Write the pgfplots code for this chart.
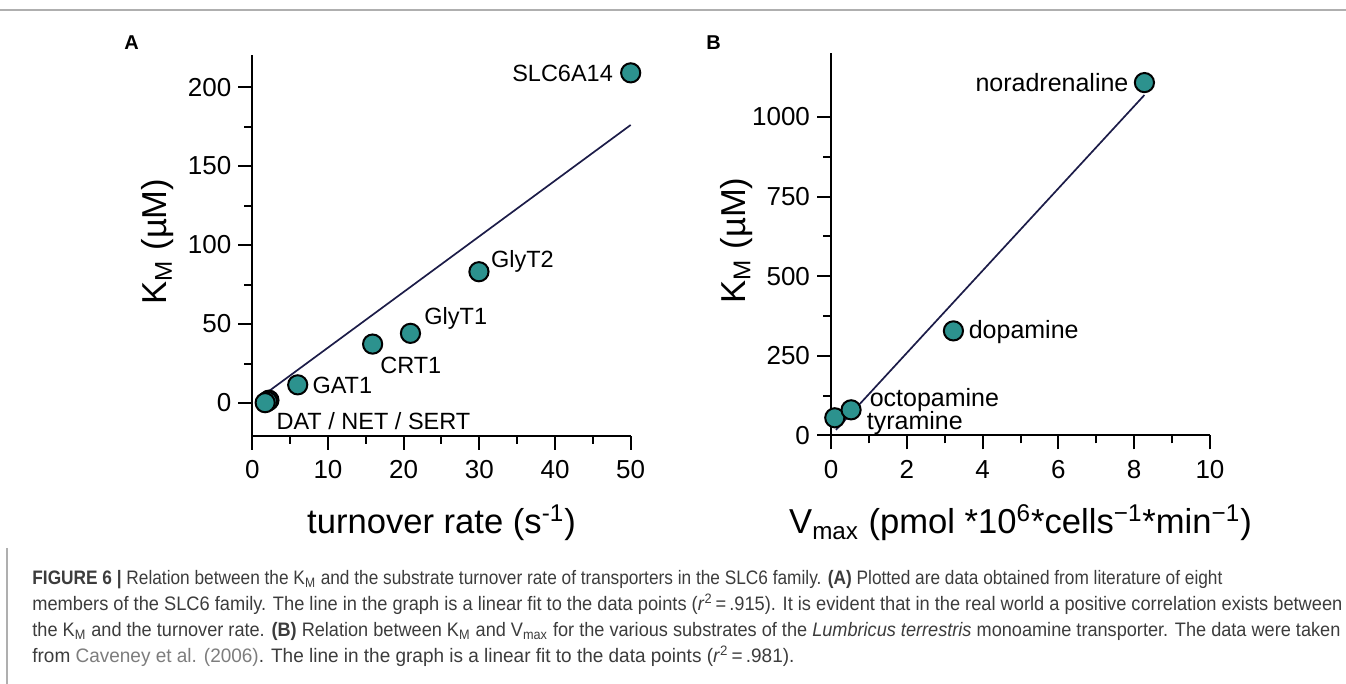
\documentclass[border=0pt]{standalone}
\usepackage{fontspec}
\setmainfont{Liberation Sans}
\newfontfamily\capfont{Liberation Sans}
\usepackage{graphicx}
\usepackage{pgfplots}
\pgfplotsset{compat=1.18}

\definecolor{dotfill}{RGB}{44,146,142}
\definecolor{fitline}{RGB}{28,28,72}
\definecolor{framegray}{RGB}{175,175,175}
\definecolor{captext}{RGB}{60,60,60}
\definecolor{linkgray}{RGB}{125,125,125}

\pgfplotsset{
  panel/.style={
    scale only axis, axis lines=left, axis line style={-, line width=1pt},
    tick align=outside, major tick length=7pt, minor tick length=4pt,
    tick style={black, line width=1pt},
    tick label style={font=\fontsize{13}{13}\selectfont},
    xticklabel style={yshift=-2pt},
    /pgf/number format/assume math mode=true,
    /pgf/number format/1000 sep={},
    scaled ticks=false, clip=false,
    label style={font=\fontsize{17.3}{17.3}\selectfont},
    xlabel style={at={(axis description cs:0.5,-0.258)}, anchor=base},
    ylabel style={at={(axis description cs:-0.25,0.51)}, anchor=center},
  },
  dots/.style={only marks, mark=*, mark size=4.8pt,
    mark options={fill=dotfill, draw=black, line width=1pt}},
  fit/.style={fitline, line width=0.85pt, no marks},
}
\tikzset{lbl/.style={inner sep=0pt, font=\fontsize{11.75}{11.75}\selectfont},
         lblb/.style={inner sep=0pt, font=\fontsize{12.5}{12.5}\selectfont}}
\newcommand\capline[2]{\resizebox{#1}{\height}{#2}}

\begin{document}
\begin{tikzpicture}
\useasboundingbox (0,0) rectangle (673pt,-342pt);
\begin{scope}[x=0.5pt, y=-0.5pt]
\draw[framegray, line width=1pt] (0,10) -- (1346,10);
\draw[framegray, line width=1pt] (7,548) -- (7,684);
\node[anchor=base west, inner sep=0pt, font=\bfseries\fontsize{10}{10}\selectfont] at (124,50) {A};
\node[anchor=base west, inner sep=0pt, font=\bfseries\fontsize{10}{10}\selectfont] at (706,50) {B};
\end{scope}

% panel A
\begin{axis}[panel, at={(126.15pt,-217.85pt)}, anchor=south west,
  width=189.2pt, height=190.35pt,
  xmin=0, xmax=50, ymin=-20.7, ymax=220.3,
  xtick={0,10,...,50}, ytick={0,50,...,200},
  minor x tick num=1, minor y tick num=1,
  xlabel={turnover rate (s\textsuperscript{-1})},
  ylabel={K\textsubscript{M} (µM)}]
  \addplot[fit] coordinates {(2.1,7.2) (50,176)};
  \addplot[dots] coordinates {
    (2.2,1.8) (2.0,1.0) (1.7,0.2) (6,11.5) (15.9,37.3)
    (20.9,44.1) (29.95,83.1) (50,209)};
  \node[lbl, anchor=base east, xshift=-8.7pt, yshift=-4.5pt] at (axis cs:50,209) {SLC6A14};
  \node[lbl, anchor=base west, xshift=5.85pt, yshift=2.2pt] at (axis cs:29.95,83.1) {GlyT2};
  \node[lbl, anchor=base west, xshift=6.8pt, yshift=4.65pt] at (axis cs:20.9,44.1) {GlyT1};
  \node[lbl, anchor=base west, xshift=3.65pt, yshift=-14.65pt] at (axis cs:15.9,37.3) {CRT1};
  \node[lbl, anchor=base west, xshift=7.2pt, yshift=-4.15pt] at (axis cs:6,11.5) {GAT1};
  \node[lbl, anchor=base west, xshift=5.5pt, yshift=-13.65pt] at (axis cs:1.7,0.2) {DAT / NET / SERT};
\end{axis}

% panel B
\begin{axis}[panel, at={(415.5pt,-217.65pt)}, anchor=south west,
  width=189.5pt, height=191pt,
  xmin=0, xmax=10, ymin=0, ymax=1200,
  xtick={0,2,...,10}, ytick={0,250,...,1000},
  minor x tick num=1, minor y tick num=1,
  xlabel={V\textsubscript{max} (pmol *10\textsuperscript{6}*cells\textsuperscript{−1}*min\textsuperscript{−1})},
  ylabel={K\textsubscript{M} (µM)}]
  \addplot[fit] coordinates {(0.13,17) (8.27,1069)};
  \addplot[dots] coordinates {(0.1,55) (0.53,80) (3.23,328) (8.27,1108)};
  \node[lblb, anchor=base east, xshift=-7.8pt, yshift=-4.35pt] at (axis cs:8.27,1108) {noradrenaline};
  \node[lblb, anchor=base west, xshift=7.5pt, yshift=-3.8pt] at (axis cs:3.23,328) {dopamine};
  \node[lblb, anchor=base west, xshift=9.15pt, yshift=1.8pt] at (axis cs:0.53,80) {octopamine};
  \node[lblb, anchor=base west, xshift=15.85pt, yshift=-6pt] at (axis cs:0.1,55) {tyramine};
\end{axis}

% caption
\begin{scope}[x=0.5pt, y=-0.5pt, every node/.style={anchor=base west, inner sep=0pt, text=captext,
    font=\capfont\fontsize{9.75}{9.75}\selectfont}]
\node at (32,585) {\capline{595pt}{\textbf{FIGURE 6 \textbar{}} Relation between the K\textsubscript{M} and the substrate turnover rate of transporters in the SLC6 family. \textbf{(A)} Plotted are data obtained from literature of eight}};
\node at (32,611) {\capline{655pt}{members of the SLC6 family. The line in the graph is a linear fit to the data points (\textit{r}\textsuperscript{2}\,=\,.915). It is evident that in the real world a positive correlation exists between}};
\node at (32,637) {\capline{654pt}{the K\textsubscript{M} and the turnover rate. \textbf{(B)} Relation between K\textsubscript{M} and V\textsubscript{max} for the various substrates of the \textit{Lumbricus terrestris} monoamine transporter. The data were taken}};
\node at (32,663) {\capline{381pt}{from \textcolor{linkgray}{Caveney et al. (2006)}. The line in the graph is a linear fit to the data points (\textit{r}\textsuperscript{2}\,=\,.981).}};
\end{scope}
\end{tikzpicture}
\end{document}
